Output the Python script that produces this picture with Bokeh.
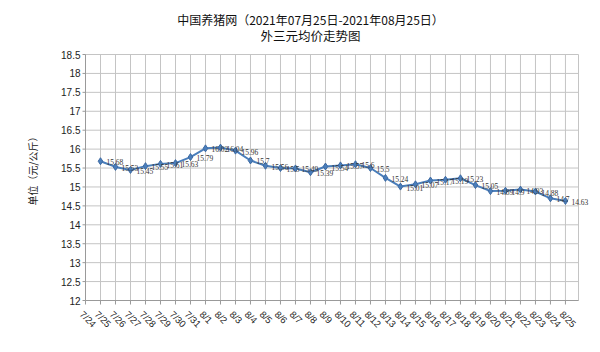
import math
from bokeh.plotting import figure
from bokeh.models import Range1d
from bokeh.core.properties import value
from bokeh.embed import file_html
from bokeh.resources import INLINE

# ---- data ----
categories = ["7/24", "7/25", "7/26", "7/27", "7/28", "7/29", "7/30", "7/31",
              "8/1", "8/2", "8/3", "8/4", "8/5", "8/6", "8/7", "8/8", "8/9",
              "8/10", "8/11", "8/12", "8/13", "8/14", "8/15", "8/16", "8/17",
              "8/18", "8/19", "8/20", "8/21", "8/22", "8/23", "8/24", "8/25"]
price_dates = ["7/25", "7/26", "7/27", "7/28", "7/29", "7/30", "7/31",
               "8/1", "8/2", "8/3", "8/4", "8/5", "8/6", "8/7", "8/8", "8/9",
               "8/10", "8/11", "8/12", "8/13", "8/14", "8/15", "8/16", "8/17",
               "8/18", "8/19", "8/20", "8/21", "8/22", "8/23", "8/24", "8/25"]
prices = [15.68, 15.53, 15.45, 15.55, 15.61, 15.63, 15.79,
          16.02, 16.04, 15.96, 15.7, 15.56, 15.5, 15.49, 15.39, 15.54,
          15.57, 15.6, 15.5, 15.24, 15.01, 15.07, 15.17, 15.19,
          15.23, 15.05, 14.89, 14.9, 14.93, 14.88, 14.7, 14.63]
y_ticks = [12, 12.5, 13, 13.5, 14, 14.5, 15, 15.5, 16, 16.5, 17, 17.5, 18, 18.5]
y_tick_labels = ["12", "12.5", "13", "13.5", "14", "14.5", "15", "15.5",
                 "16", "16.5", "17", "17.5", "18", "18.5"]
title_line1 = "中国养猪网（2021年07月25日-2021年08月25日）"
title_line2 = "外三元均价走势图"
y_label = "单位（元/公斤）"

# ---- layout constants (pixels) ----
W, H = 596, 340
PA_L, PA_R, PA_T, PA_B = 85, 578, 54, 300   # plot-area edges
Y_MIN, Y_MAX = y_ticks[0], y_ticks[-1]
X_END = 32.87                 # category units spanned by the plot area

XPX = (PA_R - PA_L) / X_END
YPX = (PA_B - PA_T) / (Y_MAX - Y_MIN)


def px_x(fx):
    return (fx - PA_L) / XPX


def px_y(fy):
    return Y_MAX + (PA_T - fy) / YPX


cat_index = {c: i for i, c in enumerate(categories)}
xs = [cat_index[d] for d in price_dates]
cat_x = list(range(len(categories)))

GRID = "#c4c4c4"
AXIS = "#9a9a9a"
BLUE = "#4a7ebb"
TXT = "#222222"

p = figure(width=W, height=H, output_backend="svg", toolbar_location=None,
           x_range=Range1d(px_x(0), px_x(W)), y_range=Range1d(px_y(H), px_y(0)),
           min_border=0, background_fill_color="white", border_fill_color="white")
p.title.visible = False
p.outline_line_color = None
p.axis.visible = False
p.grid.visible = False

# grid of the plot area
vx = cat_x + [X_END]
p.segment(x0=vx, y0=[Y_MIN] * len(vx), x1=vx, y1=[Y_MAX] * len(vx),
          line_color=GRID, line_width=1)
p.segment(x0=[0] * len(y_ticks), y0=y_ticks, x1=[X_END] * len(y_ticks), y1=y_ticks,
          line_color=GRID, line_width=1)
# axis lines and tick marks
p.segment(x0=[0], y0=[Y_MIN], x1=[X_END], y1=[Y_MIN], line_color=AXIS, line_width=1)
p.segment(x0=[0], y0=[Y_MIN], x1=[0], y1=[Y_MAX], line_color=AXIS, line_width=1)
p.segment(x0=cat_x, y0=[Y_MIN] * len(cat_x), x1=cat_x,
          y1=[Y_MIN - 4 / YPX] * len(cat_x), line_color=AXIS, line_width=1)
p.segment(x0=[0] * len(y_ticks), y0=y_ticks, x1=[-3 / XPX] * len(y_ticks), y1=y_ticks,
          line_color=AXIS, line_width=1)

# value-axis labels
p.text(x=[px_x(80)] * len(y_ticks), y=y_ticks, text=y_tick_labels,
       text_font=value("Liberation Sans"), text_font_size="10px",
       text_color=TXT, text_align="right", text_baseline="middle")
p.text(x=[px_x(32)], y=[px_y(168)], text=[y_label], angle=math.pi / 2,
       text_font=value("Noto Sans CJK SC"), text_font_size="10px",
       text_color=TXT, text_align="center", text_baseline="middle")

# category labels, rotated, starting at each tick
p.text(x=cat_x, y=[Y_MIN] * len(cat_x), text=categories, angle=-math.pi / 4,
       x_offset=-4, y_offset=12,
       text_font=value("Liberation Sans"), text_font_size="9.5px",
       text_color=TXT, text_align="left", text_baseline="middle")

# series
p.line(x=xs, y=prices, line_color=BLUE, line_width=2)
p.scatter(x=xs, y=prices, marker="diamond", size=7,
          fill_color=BLUE, line_color="#3d6aa3")
p.text(x=xs, y=prices, text=[str(v) for v in prices], x_offset=6, y_offset=1,
       text_font=value("Liberation Serif"), text_font_size="7.5px",
       text_color="#333333", text_baseline="middle", text_align="left")

# titles
p.text(x=[px_x(310)], y=[px_y(19)], text=[title_line1],
       text_font=value("Noto Sans CJK SC"), text_font_size="12px",
       text_color="#111111", text_align="center", text_baseline="middle")
p.text(x=[px_x(310)], y=[px_y(35)], text=[title_line2],
       text_font=value("Noto Sans CJK SC"), text_font_size="12.5px",
       text_color="#111111", text_align="center", text_baseline="middle")

open("out.html", "w").write(file_html(p, INLINE))
